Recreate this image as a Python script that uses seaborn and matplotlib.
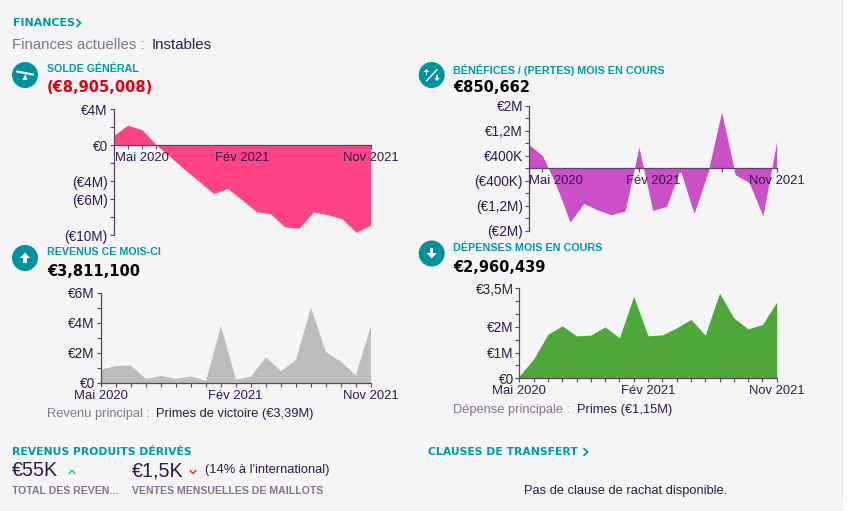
import matplotlib
matplotlib.use('Agg')
import matplotlib.pyplot as plt
import numpy as np
import pandas as pd
import seaborn as sns
from matplotlib.patches import Circle, Polygon, Rectangle

W, H = 847, 511
BG = '#f5f5f5'
TEAL = '#009aa6'
INK = '#2e1a4d'
GREY = '#85748f'
AXIS = '#5a4268'
BODY = 'Liberation Sans'
HEAVY = 'DejaVu Sans'

months = list(range(19))
solde = [1.04, 2.2, 1.7, 0.0, -1.35, -2.75, -4.05, -5.4, -4.85, -6.1, -7.4, -7.65, -9.1, -9.25, -7.45, -7.75, -8.2, -9.7, -8.905]
benefices = [0.757, 0.405, -0.55, -1.72, -1.13, -1.34, -1.49, -1.37, 0.67, -1.35, -1.22, -0.05, -1.45, -0.15, 1.8, -0.21, -0.46, -1.53, 0.851]
revenus = [0.89, 1.13, 1.16, 0.27, 0.47, 0.27, 0.44, 0.13, 3.8, 0.22, 0.42, 1.71, 0.8, 1.53, 5.04, 2.07, 1.42, 0.51, 3.811]
depenses = [0.09, 0.75, 1.71, 2.04, 1.65, 1.68, 2.0, 1.57, 3.19, 1.65, 1.69, 1.96, 2.29, 1.68, 3.31, 2.35, 1.92, 2.09, 2.96]

date_labels = ['Mai 2020', 'Fév 2021', 'Nov 2021']
solde_ticks = [4, 2, 0, -2, -4, -6, -8, -10]
solde_labels = ['€4M', '', '€0', '', '(€4M)', '(€6M)', '', '(€10M)']
ben_ticks = [2, 1.6, 1.2, 0.8, 0.4, 0, -0.4, -0.8, -1.2, -1.6, -2]
ben_labels = ['€2M', '', '€1,2M', '', '€400K', '', '(€400K)', '', '(€1,2M)', '', '(€2M)']
rev_ticks = [6, 5, 4, 3, 2, 1, 0]
rev_labels = ['€6M', '', '€4M', '', '€2M', '', '€0']
dep_ticks = [3.5, 3, 2.5, 2, 1.5, 1, 0.5, 0]
dep_labels = ['€3,5M', '', '', '€2M', '', '€1M', '', '€0']

sns.set_theme(style='white')
plt.rcParams['font.family'] = [BODY, 'DejaVu Sans']
fig = plt.figure(figsize=(W / 100, H / 100), dpi=100, facecolor=BG)


def area_chart(box, values, color, ylim, yticks, ylabels, label_idx):
    left, right, top, bottom = box
    ax = fig.add_axes([left / W, 1 - bottom / H, (right - left) / W, (bottom - top) / H])
    ax.patch.set_alpha(0)
    df = pd.DataFrame({'month': months, 'value': values})
    sns.lineplot(data=df, x='month', y='value', ax=ax, color=color, linewidth=0)
    ax.fill_between(df['month'], df['value'], 0, color=color, linewidth=0)
    ax.set_xlim(0, 18)
    ax.set_ylim(*ylim)
    ax.set_xlabel('')
    ax.set_ylabel('')
    sns.despine(ax=ax)
    ax.spines['left'].set_color(AXIS)
    ax.spines['left'].set_linewidth(0.9)
    ax.spines['bottom'].set_color(AXIS)
    ax.spines['bottom'].set_linewidth(0.9)
    ax.spines['bottom'].set_position(('data', 0))
    ax.set_yticks(yticks)
    ax.set_yticklabels(ylabels)
    ax.set_xticks(months)
    ax.set_xticklabels([''] * len(months))
    ax.tick_params(axis='both', bottom=True, left=True, length=2.6, width=0.8, color=AXIS,
                   labelcolor=INK, labelsize=9.8, pad=1.5)
    for idx, text in zip(label_idx, date_labels):
        ax.annotate(text, xy=(idx, 0), xytext=(0, -13 * 72 / 100), textcoords='offset points',
                    ha='center', va='center', fontsize=9.4, color=INK, annotation_clip=False)
    return ax


area_chart((113.5, 370.5, 109, 235), solde, '#ff4387', (-10, 4), solde_ticks, solde_labels, [2, 9, 18])
area_chart((528.7, 776.7, 105.7, 230.7), benefices, '#cb4fc6', (-2, 2), ben_ticks, ben_labels, [2, 9, 18])
area_chart((100.5, 370.5, 292.5, 382.5), revenus, '#bdbdbd', (0, 6), rev_ticks, rev_labels, [0, 9, 18])
area_chart((519.3, 776.7, 288.3, 378.3), depenses, '#4ea839', (0, 3.5), dep_ticks, dep_labels, [0, 9, 18])

# overlay in pixel coordinates for the page text and the icons
page = fig.add_axes([0, 0, 1, 1], zorder=5)
page.set_xlim(0, W)
page.set_ylim(H, 0)
page.axis('off')
page.patch.set_alpha(0)
page.add_patch(Rectangle((842, 0), 1.2, 501, color='#e2e2e2', lw=0))
page.add_patch(Rectangle((843.2, 0), 4, H, color='#fbfbfb', lw=0))
page.add_patch(Rectangle((0, 503), 842, 8, color='#f3f3f3', lw=0))


def txt(x, y, s, size=10, color=INK, family=BODY, weight='normal', ha='left'):
    page.text(x, y, s, fontsize=size, color=color, family=[family, 'DejaVu Sans'], fontweight=weight, ha=ha, va='center')


txt(12.5, 23, 'FINANCES', 7.9, TEAL, HEAVY, 'bold')
txt(12.5, 45, 'Finances actuelles :', 10.8, GREY)
txt(151.5, 45, 'Instables', 10.8)

txt(47, 69.5, 'SOLDE GÉNÉRAL', 7.7, TEAL, BODY, 'bold')
txt(47, 88, '(€8,905,008)', 10.5, '#e3000f', HEAVY, 'bold')
txt(453, 69.5, 'BÉNÉFICES / (PERTES) MOIS EN COURS', 7.75, TEAL, BODY, 'bold')
txt(453, 87, '€850,662', 10.5, '#050505', HEAVY, 'bold')
txt(47, 252, 'REVENUS CE MOIS-CI', 7.7, TEAL, BODY, 'bold')
txt(47, 272, '€3,811,100', 10.5, '#050505', HEAVY, 'bold')
txt(453, 248, 'DÉPENSES MOIS EN COURS', 7.75, TEAL, BODY, 'bold')
txt(453, 267.5, '€2,960,439', 10.5, '#050505', HEAVY, 'bold')

txt(47, 413.5, 'Revenu principal :', 9.3, GREY)
txt(156.5, 413.5, 'Primes de victoire (€3,39M)', 9.3)
txt(453, 409.5, 'Dépense principale :', 9.3, GREY)
txt(577, 409.5, 'Primes (€1,15M)', 9.3)

txt(12, 452, 'REVENUS PRODUITS DÉRIVÉS', 7.85, TEAL, HEAVY, 'bold')
txt(12, 471, '€55K', 14.2)
txt(132, 471, '€1,5K', 14.2)
txt(205, 470.5, "(14% à l'international)", 9.3)
txt(12, 491, 'TOTAL DES REVEN...', 7.6, GREY, BODY, 'bold')
txt(132, 491, 'VENTES MENSUELLES DE MAILLOTS', 7.55, GREY, BODY, 'bold')
txt(428, 452, 'CLAUSES DE TRANSFERT', 7.85, TEAL, HEAVY, 'bold')
txt(625.5, 491, 'Pas de clause de rachat disponible.', 9.3, ha='center')


def chevron(pts, color, lw=1.2):
    xs, ys = zip(*pts)
    page.plot(xs, ys, color=color, lw=lw, solid_joinstyle='miter')


chevron([(77, 19.5), (80.5, 23), (77, 26.5)], TEAL, 1.3)
chevron([(584, 448.5), (587.5, 452), (584, 455.5)], TEAL, 1.3)
chevron([(69, 473.5), (72, 470.5), (75, 473.5)], '#25c27a', 1.1)
chevron([(190, 470.5), (193, 473.5), (196, 470.5)], '#e3323c', 1.1)


def arrow(cx, cy, up, size=1.0):
    s = -1 if up else 1
    page.add_patch(Polygon([(cx - 5 * size, cy), (cx + 5 * size, cy), (cx, cy + s * 5.5 * size)], color='white', lw=0))
    page.add_patch(Rectangle((cx - 1.7 * size, cy - (0 if up else 5 * size)), 3.4 * size, 5 * size, color='white', lw=0))


for cx, cy in [(25, 75), (431.7, 75), (25, 258), (431.7, 253.5)]:
    page.add_patch(Circle((cx, cy), 13, color='#00929f', lw=0))

# seesaw
page.plot([17, 33], [71.5, 74.5], color='white', lw=1.6, solid_capstyle='round')
page.add_patch(Polygon([(22.5, 80), (27.5, 80), (25.5, 74)], color='white', lw=0))
# profit / loss
page.plot([426.5, 437], [81, 69.5], color='white', lw=1.0)
arrow(426.5, 72, True, 0.55)
arrow(437, 78, False, 0.55)
# up and down
arrow(25, 258, True, 1.0)
arrow(431.7, 253, False, 1.0)

fig.savefig('out.png', dpi=100, facecolor=BG)
